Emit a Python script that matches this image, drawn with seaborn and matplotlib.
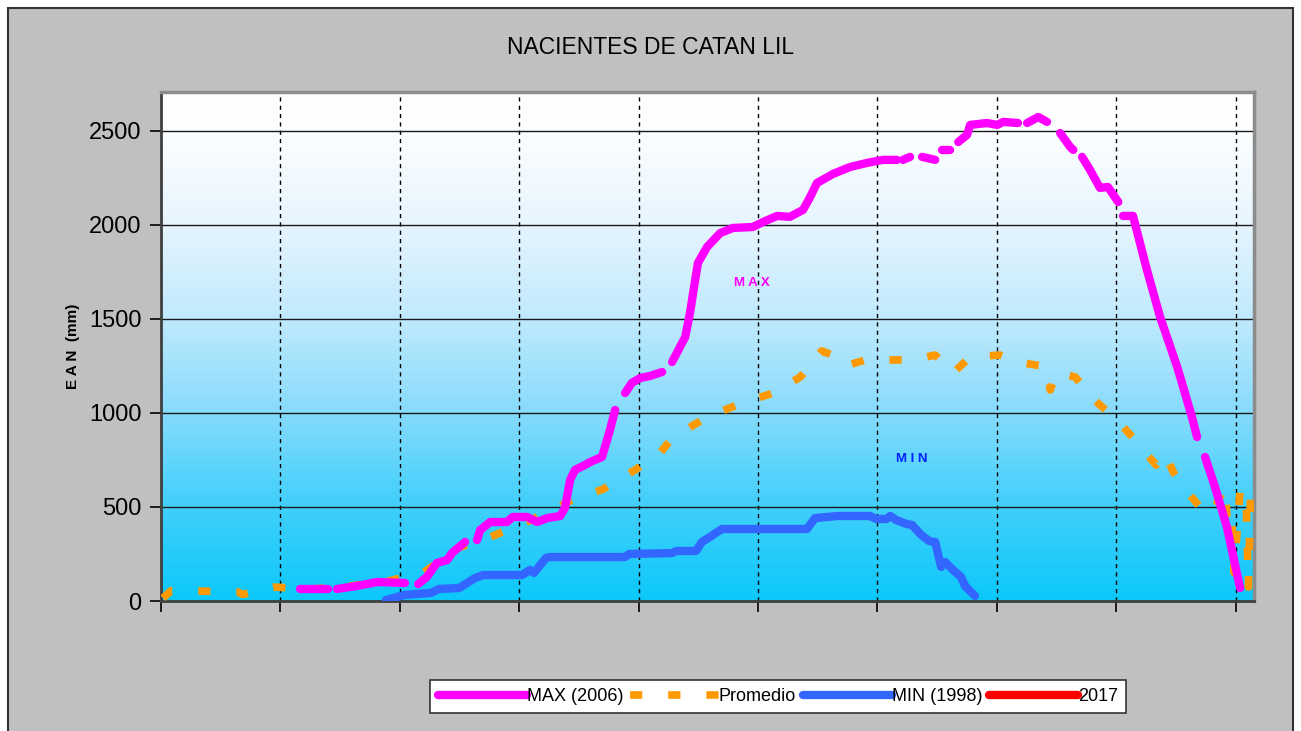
import numpy as np
import pandas as pd
import matplotlib
matplotlib.use("Agg")
import matplotlib.pyplot as plt
import seaborn as sns
from matplotlib.colors import LinearSegmentedColormap
from matplotlib.lines import Line2D
from matplotlib.patches import Rectangle

nan = np.nan

# ---------------- data (day of season, EAN in mm) ----------------
max_day = [34.9, 41.9, 43.0, 44.2, 49.2, 54.3, 61.3, 63.0, 64.6, 66.8, 69.3, 71.9, 73.1, 76.4, 78.0,
           79.4, 80.2, 82.7, 86.9, 88.4, 92.0, 94.5, 97.0, 100.3, 101.5, 102.8, 104.0, 106.5, 107.8,
           110.8, 112.8, 114.1, 115.3, 116.6, 118.3, 120.4, 122.9, 125.9, 127.0, 128.4, 131.7, 132.9,
           134.2, 134.9, 137.2, 140.5, 143.7, 148.7, 151.3, 154.8, 158.0, 161.3, 163.1, 164.8, 168.8,
           173.1, 177.4, 181.4, 184.9, 185.6, 186.4, 188.2, 189.7, 191.2, 194.5, 195.3, 196.2, 198.2,
           199.2, 200.3, 202.5, 203.3, 207.5, 210.1, 211.6, 215.3, 216.4, 217.6, 220.4, 222.6, 224.2,
           225.9, 228.4, 229.2, 230.3, 231.4, 233.4, 235.9, 237.9, 240.5, 241.1, 241.7, 244.2, 247.7,
           251.0, 255.3, 256.5, 259.0, 260.3, 261.3, 262.3, 264.8, 267.8, 271.1]
max_ean = [64, 64, nan, 64, 80, 101, 96, nan, 90, 128, 202, 218, 255, 314, nan,
           324, 378, 420, 420, 447, 447, 420, 441, 452, 495, 644, 697, 723, 739,
           766, 910, 1016, nan, 1106, 1160, 1186, 1197, 1218, nan, 1271, 1404, 1532,
           1707, 1798, 1883, 1957, 1984, 1989, 2016, 2048, 2043, 2080, 2149, 2223, 2271,
           2308, 2330, 2346, 2346, nan, 2346, 2362, nan, 2362, 2346, nan, 2399, 2399,
           nan, 2441, 2479, 2532, 2542, 2532, 2548, 2542, nan, 2542, 2574, 2548, nan,
           2489, 2415, 2399, nan, 2362, 2293, 2197, 2202, 2122, nan, 2048, 2048, 1761,
           1511, 1245, 1160, 979, 872, nan, 766, 606, 394, 69]

min_day = [56.5, 61.1, 67.8, 69.9, 74.9, 78.9, 80.9, 90.7, 92.7, 93.7, 96.7, 97.7, 116.6, 117.6,
           128.4, 129.4, 134.4, 135.9, 137.9, 139.4, 141.0, 162.3, 164.3, 170.1, 178.1, 179.7,
           182.2, 183.2, 184.7, 187.2, 188.7, 191.0, 193.0, 194.5, 196.0, 197.0, 199.0, 201.0,
           202.0, 204.5]
min_ean = [5, 32, 43, 64, 69, 122, 138, 138, 165, 149, 229, 234, 234, 250,
           255, 266, 266, 314, 340, 362, 383, 383, 441, 452, 452, 436,
           436, 452, 431, 410, 404, 351, 319, 314, 181, 207, 165, 128,
           80, 27]

prom_day = [0.5, 2.5, 9.5, 19.3, 20.5, 28.4, 37.9, 47.5, 57.0, 65.8, 74.6, 83.4, 93.5, 103.3,
            111.1, 119.1, 125.4, 128.4, 137.2, 146.0, 153.8, 160.6, 166.0, 168.6, 172.0, 176.9,
            183.9, 188.7, 194.5, 199.0, 203.3, 210.8, 216.6, 222.6, 223.4, 225.1, 229.7, 233.9,
            240.0, 244.7, 250.0, 252.2, 254.3, 256.5, 262.6, 265.3, 267.3, 268.1, 269.1, 269.6,
            271.1, 272.6, 272.9, 273.2, 273.6, 273.9]
prom_ean = [15, 55, 53, 48, 35, 74, 64, 80, 106, 149, 282, 346, 436, 537,
            595, 697, 787, 867, 979, 1053, 1106, 1191, 1330, 1308, 1250, 1282,
            1282, 1282, 1308, 1213, 1298, 1308, 1266, 1245, 1122, 1218, 1191, 1080,
            966, 856, 723, 787, 686, 617, 457, 521, 606, 362, 404, 150,
            590, 574, 300, 74, 450, 660]

y2017_day = []
y2017_ean = []

series_labels = ["MAX (2006)", "Promedio", "MIN (1998)", "2017"]
series_colors = ["#FF00FF", "#FF9900", "#3366FF", "#FF0000"]
yticks = [0, 500, 1000, 1500, 2000, 2500]
xgrid = [0, 30, 60, 90, 120, 150, 180, 210, 240, 270]
XMAX, YMAX = 274.6, 2707

LW = 6
PROM_LS = (0, (1.6, 3.4))


def segmented(days, vals):
    df = pd.DataFrame({"day": days, "ean": vals})
    df["seg"] = df["ean"].isna().cumsum()
    return df.dropna()


sns.set_theme(style="white")
plt.rcParams['font.family'] = ['Liberation Sans', 'DejaVu Sans']
plt.rcParams['text.color'] = 'black'
plt.rcParams['xtick.color'] = 'black'
plt.rcParams['ytick.color'] = 'black'

fig = plt.figure(figsize=(13.01, 7.31), dpi=100, facecolor='white')
fig.patches.append(Rectangle((8 / 1301, -0.05), (1293 - 8) / 1301, 1.05 - 8 / 731,
                             transform=fig.transFigure, facecolor='#C0C0C0',
                             edgecolor='#333333', lw=1.5, zorder=-10))

ax = fig.add_axes([161 / 1301, 1 - 601 / 731, (1254 - 161) / 1301, (601 - 92) / 731])

# background gradient
cmap = LinearSegmentedColormap.from_list("bg", [
    (0.0, "#0CC8FA"), (0.2, "#45D0FB"), (0.37, "#86DBFC"), (0.55, "#BFE9FD"),
    (0.74, "#E6F5FE"), (0.9, "#FAFDFF"), (1.0, "#FFFFFF")])
ax.imshow(np.linspace(0, 1, 256).reshape(-1, 1), extent=[0, XMAX, 0, YMAX], origin='lower',
          aspect='auto', cmap=cmap, zorder=0, interpolation='bicubic')

dmax = segmented(max_day, max_ean)
dmin = segmented(min_day, min_ean)
dprom = segmented(prom_day, prom_ean)

sns.lineplot(data=dprom, x="day", y="ean", units="seg", estimator=None, sort=False, ax=ax,
             color=series_colors[1], lw=5.5, linestyle=PROM_LS, dash_capstyle='butt', zorder=3)
sns.lineplot(data=dmax, x="day", y="ean", units="seg", estimator=None, sort=False, ax=ax,
             color=series_colors[0], lw=LW, solid_capstyle='round', solid_joinstyle='round', zorder=4)
sns.lineplot(data=dmin, x="day", y="ean", units="seg", estimator=None, sort=False, ax=ax,
             color=series_colors[2], lw=LW, solid_capstyle='round', solid_joinstyle='round', zorder=4)
if len(y2017_day) > 0:
    sns.lineplot(x=y2017_day, y=y2017_ean, ax=ax, color=series_colors[3], lw=LW, zorder=5)

ax.set_xlim(0, XMAX)
ax.set_ylim(0, YMAX)
ax.set_xlabel("")
ax.set_ylabel("")
ax.set_yticks(yticks)
ax.set_yticklabels([str(v) for v in yticks], fontsize=17, color='black')
ax.set_xticks(xgrid)
ax.set_xticklabels([])
ax.tick_params(axis='both', direction='out', length=8, width=1.2, color='black', left=True, bottom=True)
ax.tick_params(axis='y', pad=6)

ax.set_axisbelow(True)
ax.yaxis.grid(True, color='#1a1a1a', lw=1)
ax.xaxis.grid(True, color='black', lw=1, linestyle=(0, (3, 3)))

for s in ['left', 'bottom']:
    ax.spines[s].set_color('#404040')
    ax.spines[s].set_linewidth(2)
for s in ['top', 'right']:
    ax.spines[s].set_color('#8c8c8c')
    ax.spines[s].set_linewidth(2.5)

ax.text(148.5, 1691, "M A X", color="#FF00FF", fontsize=9.5, fontweight='bold', ha='center', va='center')
ax.text(188.7, 755, "M I N", color="#0022FF", fontsize=9.5, fontweight='bold', ha='center', va='center')

fig.text(651 / 1301, 1 - 47 / 731, "NACIENTES DE CATAN LIL", ha='center', va='center',
         fontsize=16.5, color='black')
fig.text(73 / 1301, 1 - 346 / 731, "E A N  (mm)", rotation=90, ha='center', va='center',
         fontsize=11, fontweight='bold', color='black')

handles = [
    Line2D([], [], color=series_colors[0], lw=LW, solid_capstyle='round'),
    Line2D([], [], color=series_colors[1], lw=5.5, linestyle=PROM_LS, dash_capstyle='butt'),
    Line2D([], [], color=series_colors[2], lw=LW, solid_capstyle='round'),
    Line2D([], [], color=series_colors[3], lw=LW, solid_capstyle='round'),
]
leg = fig.legend(handles, series_labels, loc='center', bbox_to_anchor=(778 / 1301, 1 - 696.5 / 731),
                 ncol=4, frameon=True, fancybox=False, edgecolor='#333333', facecolor='white',
                 framealpha=1, fontsize=13, handlelength=4.9, handletextpad=0.0,
                 columnspacing=0.4, borderpad=0.45)
leg.get_frame().set_linewidth(1.2)
for t in leg.get_texts():
    t.set_color('black')

fig.savefig("out.png", dpi=100, facecolor=fig.get_facecolor())
